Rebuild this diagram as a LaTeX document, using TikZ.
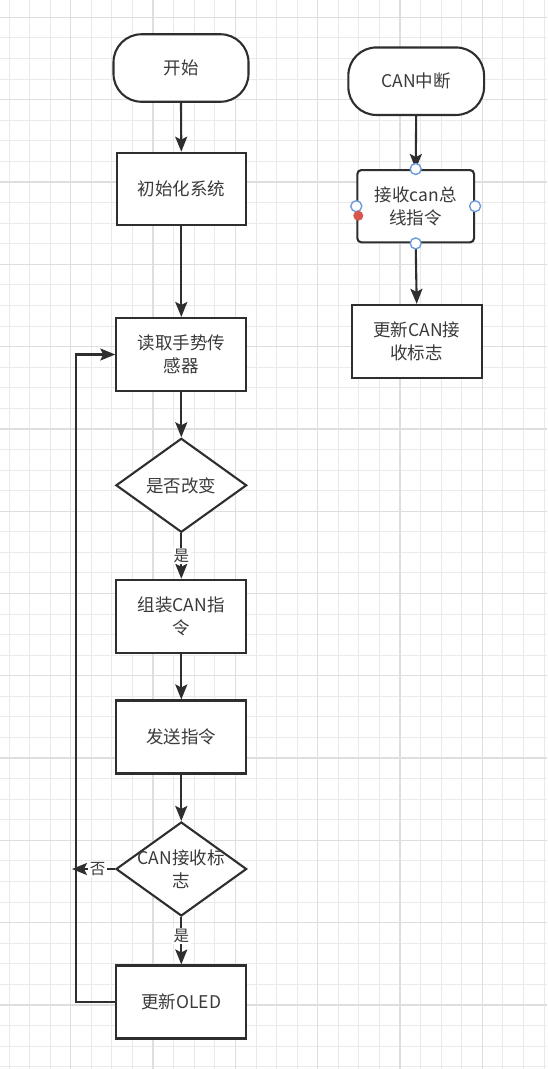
\documentclass[tikz,border=0pt]{standalone}
\usepackage{fontspec}
\newfontfamily\cjkf{Noto Sans CJK SC}
\usetikzlibrary{arrows.meta,shapes.geometric}
\definecolor{ln}{HTML}{2E2E2E}
\definecolor{tx}{HTML}{3A3A3A}
\definecolor{gmin}{HTML}{EAEAEA}
\definecolor{gmaj}{HTML}{DEDEDE}
\definecolor{hblue}{RGB}{110,155,220}
\definecolor{hred}{RGB}{215,85,75}
\tikzset{
  every node/.style={font=\cjkf\fontsize{17.5}{23}\selectfont, text=tx},
  procbox/.style={draw=ln, line width=2.1pt, fill=white, rectangle, minimum width=130pt, minimum height=73pt, align=center, inner sep=0pt},
  termbox/.style={draw=ln, line width=2.1pt, fill=white, rectangle, rounded corners=28pt, minimum width=135pt, minimum height=67.5pt, align=center, inner sep=0pt},
  decbox/.style={draw=ln, line width=2.1pt, fill=white, diamond, minimum width=130.7pt, minimum height=94pt, inner sep=0pt},
  dectext/.style={align=center, inner sep=0pt},
  arr/.style={draw=ln, line width=2.1pt, -{Stealth[length=15pt,width=12pt,inset=3pt]}},
  lbl/.style={fill=white, inner sep=1.5pt, font=\cjkf\fontsize{15.5}{18}\selectfont},
  handle/.style={circle, draw=hblue, line width=1.4pt, fill=white, minimum size=11pt, inner sep=0pt},
  reddot/.style={circle, fill=hred, minimum size=10pt, inner sep=0pt},
}
\begin{document}
\begin{tikzpicture}[x=1pt,y=-1pt]
\useasboundingbox (0,0) rectangle (547,1069);
\fill[white] (0,0) rectangle (547,1069);
% grid
\foreach \i in {0,...,26} {\draw[gmin, line width=1pt] ({9.1+\i*20.575},0) -- ({9.1+\i*20.575},1069);}
\foreach \j in {-1,...,52} {\draw[gmin, line width=1pt] (0,{17.4+\j*20.575}) -- (547,{17.4+\j*20.575});}
\foreach \i in {-1,...,6} {\draw[gmaj, line width=1.3pt] ({70.8+\i*82.3},0) -- ({70.8+\i*82.3},1069);}
\foreach \j in {0,...,13} {\draw[gmaj, line width=1.3pt] (0,{17.4+\j*82.3}) -- (547,{17.4+\j*82.3});}

% left column
\node[termbox] (start) at (181,68) {开始};
\node[procbox, minimum width=129.5pt, minimum height=72.5pt] (init) at (181.3,189) {初始化系统};
\node[procbox] (read) at (181.3,354.5) {读取手势传\\感器};
\node[decbox] (d1) at (181.3,485.3) {};
\node[dectext] (d1t) at (d1) {是否改变};
\node[procbox] (pack) at (181.3,616.3) {组装CAN指\\令};
\node[procbox] (send) at (181.3,737) {发送指令};
\node[decbox] (d2) at (181.3,869) {};
\node[dectext] (d2t) at (d2) {CAN接收标\\志};
\node[procbox] (oled) at (181.3,1002) {更新OLED};
\coordinate (nolend) at (72,869);
\coordinate (lb) at (75.7,1002);
\coordinate (lt) at (75.7,354.5);

\draw[arr] (start.south) -- (init.north);
\draw[arr] (init.south) -- (read.north);
\draw[arr] (read.south) -- (d1.north);
\draw[arr] (d1.south) -- node[lbl, pos=0.5] (yes1) {是} (pack.north);
\draw[arr] (pack.south) -- (send.north);
\draw[arr] (send.south) -- (d2.north);
\draw[arr] (d2.south) -- node[lbl, pos=0.4] (yes2) {是} (oled.north);
\draw[arr] (d2.west) -- node[lbl, pos=0.4] (no1) {否} (nolend);
\draw[arr] (oled.west) -- (lb) -- (lt) -- (read.west);

% right column
\node[termbox, minimum width=135.7pt] (irq) at (416.2,81.2) {CAN中断};
\node[procbox, rounded corners=4pt, minimum width=116.7pt, minimum height=72.3pt] (recv) at (415.7,206.2) {接收can总\\线指令};
\node[procbox] (flag) at (416.7,341.4) {更新CAN接\\收标志};
\draw[arr] (irq.south) -- (recv.north);
\draw[arr] (recv.south) -- (flag.north);

\node[handle] (h1) at (recv.north) {};
\node[handle] (h2) at (recv.west) {};
\node[handle] (h3) at (recv.east) {};
\node[handle] (h4) at (recv.south) {};
\node[reddot] (rd) at (358.3,215.7) {};
\end{tikzpicture}
\end{document}
